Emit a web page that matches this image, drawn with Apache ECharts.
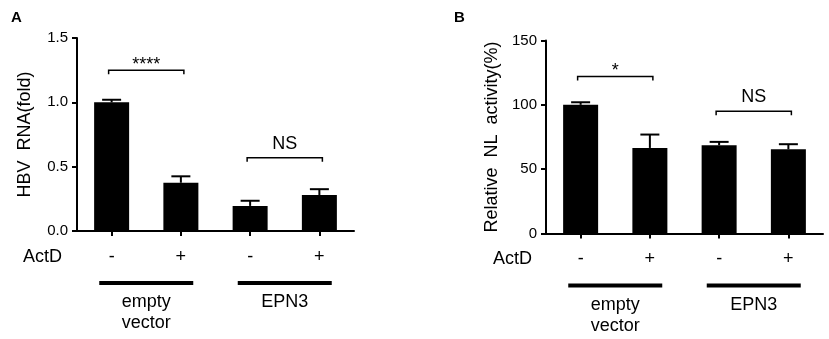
<!DOCTYPE html>
<html>
<head>
<meta charset="utf-8">
<script src="https://cdn.jsdelivr.net/npm/echarts@6/dist/echarts.min.js"></script>
<style>
html, body { margin: 0; padding: 0; background: #fff; }
#chart { width: 829px; height: 339px; }
</style>
</head>
<body>
<div id="chart"></div>
<script>
// data
const actd = ['-', '+', '-', '+']
const groupNames = ['empty\nvector', 'EPN3']
const groupSpans = [[0, 1], [2, 3]]

const rnaMean = [1.0, 0.375, 0.195, 0.28]
const rnaErr = [0.02, 0.05, 0.04, 0.045]
const rnaBrackets = [[0, 1, 1.25], [2, 3, 0.57]]
const rnaBracketLabels = ['****', 'NS']

const nlMean = [100, 66.5, 68.6, 65.4]
const nlErr = [2, 10.4, 2.6, 4]
const nlBrackets = [[0, 1, 122], [2, 3, 95]]
const nlBracketLabels = ['*', 'NS']

const FONT = '"Liberation Sans", Arial, sans-serif'

const chart = echarts.init(document.getElementById('chart'), null, { renderer: 'canvas' })

function errorBarItem(params, api) {
  const x = api.value(0)
  const base = api.coord([x, api.value(1)])
  const top = api.coord([x, api.value(2)])
  const half = 9.5
  const style = { stroke: '#000', lineWidth: 2 }
  return {
    type: 'group',
    children: [
      { type: 'line', shape: { x1: base[0], y1: base[1], x2: top[0], y2: top[1] }, style },
      { type: 'line', shape: { x1: top[0] - half, y1: top[1], x2: top[0] + half, y2: top[1] }, style },
    ],
  }
}

function bracketItem(labels) {
  return function (params, api) {
    const y = api.value(2)
    const a = api.coord([api.value(0), y])
    const b = api.coord([api.value(1), y])
    const label = labels[params.dataIndex]
    const x0 = a[0] - 3
    const x1 = b[0] + 3
    const yy = a[1]
    // asterisks sit high in the glyph box, so they go lower
    const gap = label[0] === '*' ? -4 : 5
    return {
      type: 'group',
      children: [
        {
          type: 'polyline',
          shape: { points: [[x0, yy + 4], [x0, yy], [x1, yy], [x1, yy + 4]] },
          style: { stroke: '#000', lineWidth: 1.5, fill: null },
        },
        {
          type: 'text',
          x: (x0 + x1) / 2,
          y: yy - gap,
          style: { text: label, fontSize: 18, fontFamily: FONT, fill: '#000', align: 'center', verticalAlign: 'bottom' },
        },
      ],
    }
  }
}

function groupItem(params, api) {
  const a = api.coord([api.value(0), 0])
  const b = api.coord([api.value(1), 0])
  const cx = (a[0] + b[0]) / 2
  return {
    type: 'group',
    children: [
      { type: 'rect', shape: { x: cx - 47, y: a[1] + 50, width: 94, height: 4 }, style: { fill: '#000' } },
      {
        type: 'text',
        x: cx,
        y: a[1] + 61,
        style: {
          text: groupNames[params.dataIndex], fontSize: 18, lineHeight: 21, fontFamily: FONT,
          fill: '#000', align: 'center', verticalAlign: 'top',
        },
      },
    ],
  }
}

function xAxisCfg(gridIndex) {
  return {
    gridIndex,
    type: 'category',
    data: actd,
    axisLine: { show: true, lineStyle: { color: '#000', width: 2 } },
    axisTick: { show: true, alignWithLabel: true, length: 5, lineStyle: { color: '#000', width: 2 } },
    axisLabel: { fontSize: 18, color: '#000', fontFamily: FONT, margin: 17 },
  }
}

function yAxisCfg(gridIndex, name, max, interval, nameGap, fmt) {
  return {
    gridIndex,
    type: 'value',
    min: 0,
    max,
    interval,
    name,
    nameLocation: 'middle',
    nameGap,
    nameTextStyle: { fontSize: 18, color: '#000', fontFamily: FONT },
    axisLine: { show: true, lineStyle: { color: '#000', width: 2 } },
    axisTick: { show: true, length: 5, lineStyle: { color: '#000', width: 2 } },
    axisLabel: { fontSize: 15, color: '#000', fontFamily: FONT, margin: 9, formatter: fmt },
    splitLine: { show: false },
  }
}

function panelSeries(idx, mean, err, brackets, labels) {
  return [
    {
      type: 'bar',
      xAxisIndex: idx,
      yAxisIndex: idx,
      data: mean,
      barWidth: 35,
      itemStyle: { color: '#000' },
    },
    {
      type: 'custom',
      xAxisIndex: idx,
      yAxisIndex: idx,
      renderItem: errorBarItem,
      encode: { x: 0, y: [1, 2] },
      data: mean.map((m, i) => [i, m, m + err[i]]),
    },
    {
      type: 'custom',
      xAxisIndex: idx,
      yAxisIndex: idx,
      renderItem: bracketItem(labels),
      encode: { x: [0, 1], y: 2 },
      data: brackets,
    },
    {
      type: 'custom',
      xAxisIndex: idx,
      yAxisIndex: idx,
      clip: false,
      renderItem: groupItem,
      encode: { x: [0, 1], y: 2 },
      data: groupSpans.map(s => [s[0], s[1], 0]),
    },
  ]
}

chart.setOption({
  animation: false,
  backgroundColor: '#fff',
  title: [
    { text: 'A', left: 6, top: 5, textStyle: { fontSize: 15, fontWeight: 'bold', color: '#000', fontFamily: FONT } },
    { text: 'B', left: 449, top: 5, textStyle: { fontSize: 15, fontWeight: 'bold', color: '#000', fontFamily: FONT } },
  ],
  grid: [
    { left: 77, top: 38, width: 277, height: 193 },
    { left: 546, top: 40.5, width: 277, height: 193 },
  ],
  xAxis: [xAxisCfg(0), xAxisCfg(1)],
  yAxis: [
    yAxisCfg(0, 'HBV  RNA(fold)', 1.5, 0.5, 43, v => v.toFixed(1)),
    yAxisCfg(1, 'Relative  NL  activity(%)', 150, 50, 45, v => String(v)),
  ],
  graphic: [
    { type: 'text', left: 23, top: 248, style: { text: 'ActD', fontSize: 18, fontFamily: FONT, fill: '#000' } },
    { type: 'text', left: 493, top: 250, style: { text: 'ActD', fontSize: 18, fontFamily: FONT, fill: '#000' } },
  ],
  series: [
    ...panelSeries(0, rnaMean, rnaErr, rnaBrackets, rnaBracketLabels),
    ...panelSeries(1, nlMean, nlErr, nlBrackets, nlBracketLabels),
  ],
})

window.addEventListener('resize', () => chart.resize())
</script>
</body>
</html>
